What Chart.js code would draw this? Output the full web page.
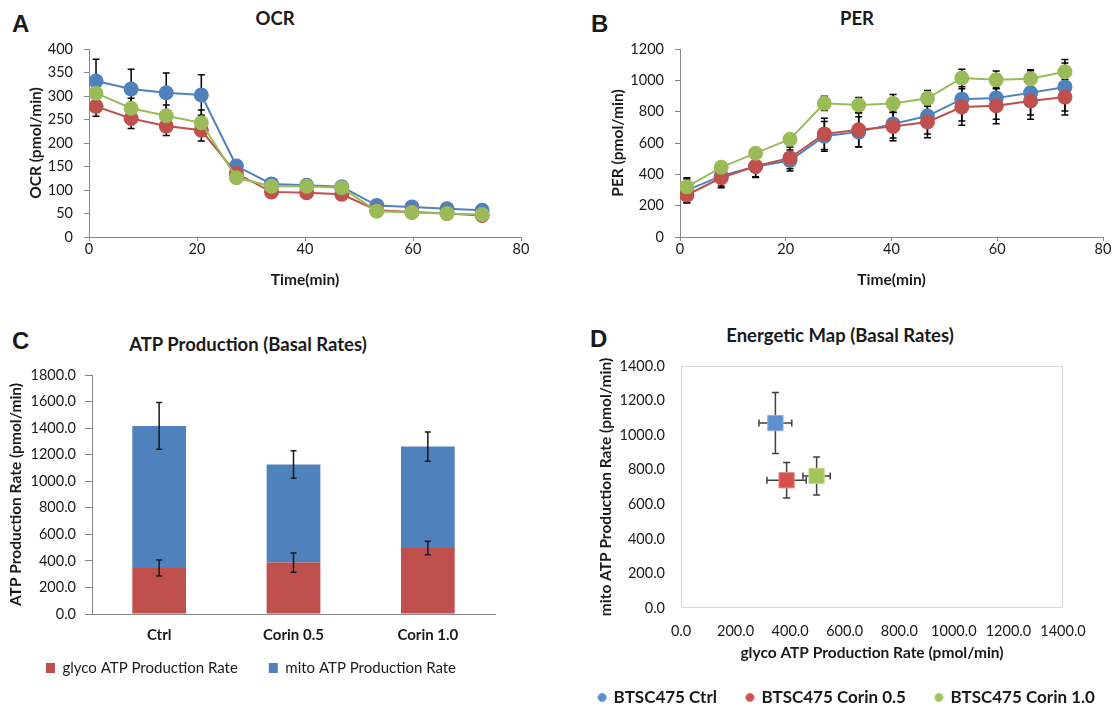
<!DOCTYPE html>
<html>
<head>
<meta charset="utf-8">
<title>Seahorse ATP rate panels</title>
<script src="https://cdn.jsdelivr.net/npm/chart.js@4.4.0/dist/chart.umd.min.js"></script>
<style>
  html, body { margin: 0; padding: 0; background: #fff; overflow: hidden; }
  #page { position: relative; width: 1115px; height: 711px; overflow: hidden; font-family: Lato, sans-serif; color: #1a1a1a; }
  canvas { position: absolute; }
  .letter { position: absolute; font-family: "Liberation Sans", Arial, sans-serif; font-weight: bold; font-size: 24px; line-height: 24px; }
  .title { position: absolute; font-weight: bold; font-size: 18.5px; line-height: 22px; white-space: nowrap; transform: translate(-50%, -50%); }
</style>
</head>
<body>
<div id="page">
  <div class="letter" style="left:12px; top:12px;">A</div>
  <div class="letter" style="left:591px; top:12px;">B</div>
  <div class="letter" style="left:12px; top:329px;">C</div>
  <div class="letter" style="left:590px; top:327px;">D</div>

  <div class="title" style="left:275px; top:18px;">OCR</div>
  <div class="title" style="left:857px; top:18px;">PER</div>
  <div class="title" style="left:248px; top:344px;">ATP Production (Basal Rates)</div>
  <div class="title" style="left:840px; top:335px;">Energetic Map (Basal Rates)</div>

  <canvas id="ocr" width="560" height="300" style="left:0px; top:0px;"></canvas>
  <canvas id="per" width="555" height="300" style="left:560px; top:0px;"></canvas>
  <canvas id="atp" width="545" height="386" style="left:0px; top:320px;"></canvas>
  <canvas id="map" width="570" height="398" style="left:562px; top:320px;"></canvas>
</div>
<script>
'use strict';

// measurement times (min)
var times = [1.3, 7.8, 14.3, 20.8, 27.3, 33.8, 40.3, 46.8, 53.3, 59.8, 66.3, 72.8];
var groups = ['BTSC475 Ctrl', 'BTSC475 Corin 0.5', 'BTSC475 Corin 1.0'];

// OCR (pmol/min) and error
var ocrCtrl = [332, 315, 307, 302, 151, 113, 110, 107, 67, 64, 60, 57];
var ocrC05 = [278, 252, 236, 227, 135, 96, 94, 91, 57, 53, 50, 46];
var ocrC10 = [306, 274, 258, 243, 126, 108, 108, 105, 55, 52, 50, 48];
var ocrErrCtrl = [46, 42, 42, 43, 6, 5, 5, 5, 4, 4, 4, 4];
var ocrErrC05 = [21, 21, 20, 23, 5, 4, 4, 4, 3, 3, 3, 3];
var ocrErrC10 = [20, 21, 23, 27, 5, 4, 4, 4, 3, 3, 3, 3];

// PER (pmol/min) and error
var perCtrl = [298, 390, 450, 488, 643, 671, 722, 772, 880, 888, 920, 958];
var perC05 = [268, 378, 452, 505, 658, 684, 706, 734, 830, 838, 868, 893];
var perC10 = [320, 445, 535, 624, 853, 843, 852, 885, 1015, 1003, 1010, 1055];
var perErrCtrl = [80, 65, 70, 67, 95, 97, 90, 115, 140, 137, 141, 153];
var perErrC05 = [50, 63, 68, 70, 100, 108, 91, 100, 116, 115, 117, 114];
var perErrC10 = [50, 20, 32, 35, 45, 48, 57, 50, 56, 57, 58, 78];

// basal ATP production rates (pmol/min)
var categories = ['Ctrl', 'Corin 0.5', 'Corin 1.0'];
var glyco = [346, 387, 497];
var glycoErr = [60, 72, 50];
var mito = [1070, 739, 764];
var mitoErr = [176, 103, 110];

var blue = '#4F81BD';
var red = '#C0504D';
var green = '#9BBB59';
var mapFill = ['#5B8FD2', '#D5514E', '#A3C55A'];
var mapEdge = ['#8DB0E0', '#E08A88', '#C0D88E'];
var axisGray = '#868686';
var titleFont = { size: 15.5, weight: 'bold' };
var tickFont = { size: 14.5 };

Chart.defaults.font.family = 'Lato, sans-serif';
Chart.defaults.color = '#1a1a1a';
Chart.defaults.animation = false;
Chart.defaults.events = [];
Chart.defaults.plugins.legend.display = false;
Chart.defaults.plugins.tooltip.enabled = false;

// error bars read from dataset.yErrors / dataset.xErrors
function drawErrorBars(chart, opts) {
  var ctx = chart.ctx;
  var cap = opts.cap || 3.5;
  ctx.save();
  ctx.strokeStyle = opts.color || '#000';
  ctx.lineWidth = 1.5;
  chart.data.datasets.forEach(function (ds, di) {
    var meta = chart.getDatasetMeta(di);
    var xs = chart.scales[meta.xAxisID];
    var ys = chart.scales[meta.yAxisID];
    meta.data.forEach(function (pt, i) {
      ctx.beginPath();
      if (ds.yErrors) {
        var dy = Math.abs(ys.getPixelForValue(0) - ys.getPixelForValue(ds.yErrors[i]));
        ctx.moveTo(pt.x, pt.y - dy); ctx.lineTo(pt.x, pt.y + dy);
        ctx.moveTo(pt.x - cap, pt.y - dy); ctx.lineTo(pt.x + cap, pt.y - dy);
        ctx.moveTo(pt.x - cap, pt.y + dy); ctx.lineTo(pt.x + cap, pt.y + dy);
      }
      if (ds.xErrors) {
        var dx = Math.abs(xs.getPixelForValue(ds.xErrors[i]) - xs.getPixelForValue(0));
        ctx.moveTo(pt.x - dx, pt.y); ctx.lineTo(pt.x + dx, pt.y);
        ctx.moveTo(pt.x - dx, pt.y - cap); ctx.lineTo(pt.x - dx, pt.y + cap);
        ctx.moveTo(pt.x + dx, pt.y - cap); ctx.lineTo(pt.x + dx, pt.y + cap);
      }
      ctx.stroke();
    });
  });
  ctx.restore();
}

var errorBars = {
  id: 'errorBars',
  beforeDatasetsDraw: function (chart, args, opts) { if (!opts.onTop) drawErrorBars(chart, opts); },
  afterDatasetsDraw: function (chart, args, opts) { if (opts.onTop) drawErrorBars(chart, opts); }
};

var plotFrame = {
  id: 'plotFrame',
  beforeDatasetsDraw: function (chart, args, opts) {
    var a = chart.chartArea;
    var ctx = chart.ctx;
    ctx.save();
    ctx.strokeStyle = opts.color || '#d9d9d9';
    ctx.lineWidth = 1;
    ctx.strokeRect(a.left + 0.5, a.top + 0.5, a.right - a.left - 1, a.bottom - a.top - 1);
    ctx.restore();
  }
};

// nudges the legend box up so the category labels keep room below the axis
var legendShift = {
  id: 'legendShift',
  afterLayout: function (chart, args, opts) {
    if (chart.legend && opts.dy) {
      chart.legend.top += opts.dy;
      chart.legend.bottom += opts.dy;
    }
  }
};

function fixed1(v) { return Number(v).toFixed(1); }
function plain(v) { return String(v); }

function points(vals) {
  return times.map(function (t, i) { return { x: t, y: vals[i] }; });
}

function lineSet(label, vals, errs, color, order) {
  return {
    label: label,
    data: points(vals),
    yErrors: errs,
    borderColor: color,
    backgroundColor: color,
    borderWidth: 2,
    pointRadius: 7.5,
    pointBackgroundColor: color,
    pointBorderWidth: 0,
    order: order
  };
}

function timeAxis() {
  return {
    type: 'linear', min: 0, max: 80,
    ticks: { stepSize: 20, padding: 0, font: tickFont },
    grid: { drawOnChartArea: false, tickLength: 4, color: axisGray },
    border: { color: axisGray },
    title: { display: true, text: 'Time(min)', font: titleFont, padding: { top: 0, bottom: 3 } },
    afterFit: function (s) { s.height = 55; }
  };
}

function valueAxis(max, step, text, width) {
  return {
    min: 0, max: max,
    ticks: { stepSize: step, padding: 11, font: tickFont, callback: plain },
    grid: { drawOnChartArea: false, tickLength: 5, color: axisGray },
    border: { color: axisGray },
    title: { display: true, text: text, font: titleFont, padding: { top: 4, bottom: 0 } },
    afterFit: function (s) { s.width = width; }
  };
}

// A: OCR
new Chart(document.getElementById('ocr'), {
  type: 'line',
  data: {
    datasets: [
      lineSet(groups[0], ocrCtrl, ocrErrCtrl, blue, 3),
      lineSet(groups[1], ocrC05, ocrErrC05, red, 2),
      lineSet(groups[2], ocrC10, ocrErrC10, green, 1)
    ]
  },
  options: {
    responsive: false,
    layout: { padding: { left: 23, right: 39, top: 49, bottom: 8 } },
    scales: { x: timeAxis(), y: valueAxis(400, 50, 'OCR (pmol/min)', 66) },
    plugins: { errorBars: { color: '#000', cap: 3.5 } }
  },
  plugins: [errorBars]
});

// B: PER
new Chart(document.getElementById('per'), {
  type: 'line',
  data: {
    datasets: [
      lineSet(groups[0], perCtrl, perErrCtrl, blue, 3),
      lineSet(groups[1], perC05, perErrC05, red, 2),
      lineSet(groups[2], perC10, perErrC10, green, 1)
    ]
  },
  options: {
    responsive: false,
    layout: { padding: { left: 45, right: 12, top: 49, bottom: 8 } },
    scales: { x: timeAxis(), y: valueAxis(1200, 200, 'PER (pmol/min)', 75) },
    plugins: { errorBars: { color: '#000', cap: 3.5 } }
  },
  plugins: [errorBars]
});

// C: stacked ATP production
new Chart(document.getElementById('atp'), {
  type: 'bar',
  data: {
    labels: categories,
    datasets: [
      { label: 'glyco ATP Production Rate', data: glyco, yErrors: glycoErr, backgroundColor: red, borderWidth: 0 },
      { label: 'mito ATP Production Rate', data: mito, yErrors: mitoErr, backgroundColor: blue, borderWidth: 0 }
    ]
  },
  options: {
    responsive: false,
    layout: { padding: { left: 7, right: 50, top: 55, bottom: 4 } },
    datasets: { bar: { categoryPercentage: 1, barPercentage: 0.4 } },
    scales: {
      x: {
        stacked: true,
        ticks: { padding: 12, font: { size: 15, weight: 'bold' } },
        grid: { display: false, drawTicks: false },
        border: { color: axisGray },
        afterFit: function (s) { s.height = 32; }
      },
      y: {
        stacked: true, min: 0, max: 1800,
        ticks: { stepSize: 200, padding: 9, callback: fixed1, font: tickFont },
        grid: { drawOnChartArea: false, tickLength: 7, color: axisGray },
        border: { color: axisGray },
        title: { display: true, text: 'ATP Production Rate (pmol/min)', font: titleFont, padding: { top: 0, bottom: 0 } },
        afterFit: function (s) { s.width = 85; }
      }
    },
    plugins: {
      legend: { display: true, position: 'bottom', labels: { boxWidth: 9, boxHeight: 10, padding: 31, font: { size: 15 } } },
      legendShift: { dy: -16.5 },
      errorBars: { onTop: true, color: '#1a1a1a', cap: 3 }
    }
  },
  plugins: [errorBars, legendShift]
});

// D: energetic map
new Chart(document.getElementById('map'), {
  type: 'scatter',
  data: {
    datasets: groups.map(function (g, i) {
      return {
        label: g,
        data: [{ x: glyco[i], y: mito[i] }],
        xErrors: [glycoErr[i]],
        yErrors: [mitoErr[i]],
        yAxisID: 'y',
        pointStyle: 'rect',
        pointRadius: 10.8,
        backgroundColor: mapFill[i],
        borderColor: mapEdge[i],
        borderWidth: 1
      };
    })
  },
  options: {
    responsive: false,
    layout: { padding: { left: 0, right: 0, top: 46, bottom: 2 } },
    scales: {
      x: {
        min: 0, max: 1400,
        ticks: { stepSize: 200, padding: 15, callback: fixed1, font: tickFont },
        grid: { display: false, drawTicks: false },
        border: { display: false },
        title: { display: true, text: 'glyco ATP Production Rate (pmol/min)', font: titleFont, padding: { top: 0, bottom: -3 } },
        afterFit: function (s) { s.height = 51; }
      },
      y: {
        min: 0, max: 1400,
        ticks: { stepSize: 200, padding: 16, callback: fixed1, font: tickFont },
        grid: { display: false, drawTicks: false },
        border: { display: false },
        title: { display: true, text: 'mito ATP Production Rate (pmol/min)', font: titleFont, padding: { top: 35, bottom: 0 } },
        afterFit: function (s) { s.width = 119; }
      },
      yFill: {
        position: 'right',
        grid: { display: false, drawTicks: false },
        ticks: { display: false },
        border: { display: false },
        afterFit: function (s) { s.width = 69; }
      }
    },
    plugins: {
      legend: {
        display: true, position: 'bottom',
        labels: { usePointStyle: true, pointStyle: 'circle', boxWidth: 6, boxHeight: 6, padding: 30, font: { size: 17, weight: 'bold' } }
      },
      errorBars: { color: '#404040', cap: 3.5 },
      plotFrame: { color: '#d9d9d9' }
    }
  },
  plugins: [plotFrame, errorBars]
});
</script>
</body>
</html>
